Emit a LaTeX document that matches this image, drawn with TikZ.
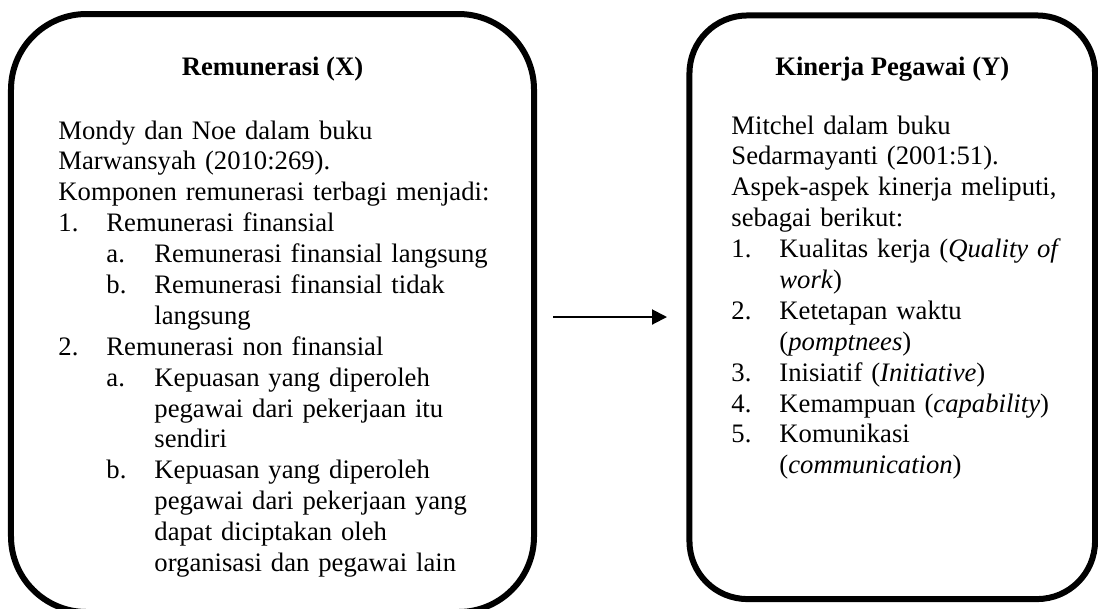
\documentclass[tikz,border=0pt]{standalone}
\usepackage{fontspec}
\setmainfont{Liberation Serif}
\usetikzlibrary{arrows.meta}
\setlength{\parindent}{0pt}
% list lines with hanging indent
\newcommand{\brk}{\hfil\break}
\newcommand{\lvlone}[2]{\par\hangindent=21.6pt\hangafter=1\makebox[21.6pt][l]{#1}#2\par}
\newcommand{\lvltwo}[2]{\par\hangindent=43.2pt\hangafter=1\hspace*{21.6pt}\makebox[21.6pt][l]{#1}#2\par}
\begin{document}
\begin{tikzpicture}[x=0.45pt,y=-0.45pt,%
    box/.style={draw,line width=2.7pt,inner sep=0pt},%
    title/.style={anchor=base,font=\fontsize{12}{13.8}\selectfont\bfseries,inner sep=0pt},%
    body/.style={anchor=north west,inner sep=0pt,text width=235pt,align=left,%
      font=\fontsize{12}{13.9}\selectfont}]%
    \useasboundingbox (0,0) rectangle (1098,608);%
    % the two boxes
    \node[box,rounded corners=34pt,minimum width=235.35pt,minimum height=269.1pt]%
      (remun) at (272.5,313) {};%
    \node[box,rounded corners=26pt,minimum width=182.5pt,minimum height=262.6pt]%
      (kinerja) at (892.25,307.25) {};%

    \node[title] (remuntitle) at (272.5,75) {Remunerasi (X)};%
    \node[title] (kinerjatitle) at (892.25,75) {Kinerja Pegawai (Y)};%

    \node[body] (remuntext) at (58,117) {\strut Mondy dan Noe dalam buku\brk%
      Marwansyah (2010:269).\brk%
      Komponen remunerasi terbagi menjadi:%
      \lvlone{1.}{Remunerasi finansial}%
      \lvltwo{a.}{Remunerasi finansial langsung}%
      \lvltwo{b.}{Remunerasi finansial tidak\brk langsung}%
      \lvlone{2.}{Remunerasi non finansial}%
      \lvltwo{a.}{Kepuasan yang diperoleh\brk pegawai dari pekerjaan itu\brk sendiri}%
      \lvltwo{b.}{Kepuasan yang diperoleh\brk pegawai dari pekerjaan yang\brk dapat diciptakan oleh\brk organisasi dan pegawai lain}};%

    \node[body] (kinerjatext) at (731,112) {\strut Mitchel dalam buku\brk%
      Sedarmayanti (2001:51).\brk%
      Aspek-aspek kinerja meliputi,\brk%
      sebagai berikut:%
      \lvlone{1.}{Kualitas kerja (\textit{Quality of}\brk \textit{work})}%
      \lvlone{2.}{Ketetapan waktu\brk (\textit{pomptnees})}%
      \lvlone{3.}{Inisiatif (\textit{Initiative})}%
      \lvlone{4.}{Kemampuan (\textit{capability})}%
      \lvlone{5.}{Komunikasi\brk (\textit{communication})}};%

    % arrow between the boxes
    \coordinate (arrowstart) at (553,317);%
    \coordinate (arrowend) at (667,317);%
    \draw[line width=0.9pt,-{Triangle[length=6.75pt,width=6.75pt]}] (arrowstart) -- (arrowend);%
\end{tikzpicture}
\end{document}
